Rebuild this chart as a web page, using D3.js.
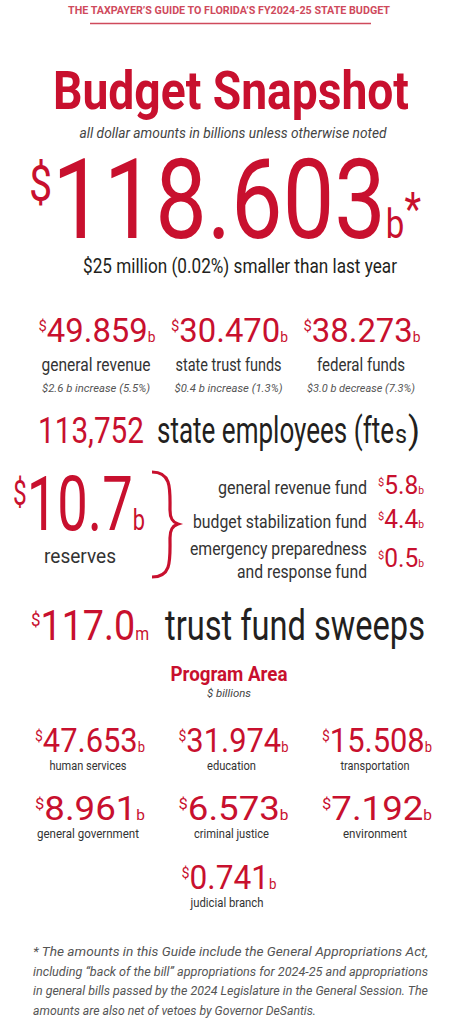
<!DOCTYPE html>
<html><head><meta charset="utf-8">
<script src="https://cdn.jsdelivr.net/npm/d3@7"></script>
<style>body{margin:0;background:#fff}svg{display:block}</style>
</head><body>
<script>
const fundNames = ["general revenue","state trust funds","federal funds"];
const fundValues = ["49.859","30.470","38.273"];
const fundChanges = ["$2.6 b increase (5.5%)","$0.4 b increase (1.3%)","$3.0 b decrease (7.3%)"];
const reserveNames = [["general revenue fund"],["budget stabilization fund"],["emergency preparedness","and response fund"]];
const reserveValues = ["5.8","4.4","0.5"];
const programNames = ["human services","education","transportation","general government","criminal justice","environment","judicial branch"];
const programValues = ["47.653","31.974","15.508","8.961","6.573","7.192","0.741"];
const footnote = ["* The amounts in this Guide include the General Appropriations Act,",
 "including \u201cback of the bill\u201d appropriations for 2024-25 and appropriations",
 "in general bills passed by the 2024 Legislature in the General Session. The",
 "amounts are also net of vetoes by Governor DeSantis."];

const RED="#c8102e", DARK="#231f20";
const F="'Liberation Sans Narrow','Arial Narrow','Roboto','Liberation Sans',sans-serif";
const W=457,H=1024;
const svg=d3.select("body").append("svg").attr("width",W).attr("height",H).style("font-family",F);

function txt(x,y,s,size,o={}){
  const t=svg.append("text").attr("x",x).attr("y",y).text(s).attr("font-size",size)
   .attr("fill",o.fill||DARK).attr("text-anchor",o.anchor||"middle");
  if(o.bold)t.attr("font-weight","bold");
  if(o.italic)t.attr("font-style","italic");
  if(o.len)t.attr("textLength",o.len).attr("lengthAdjust","spacingAndGlyphs");
  return t;
}
function money(x,y,num,size,suf,o={}){
  const t=svg.append("text").attr("x",x).attr("y",y).attr("fill",RED).attr("text-anchor",o.anchor||"middle").attr("font-size",size);
  t.append("tspan").text("$").attr("font-size",size*0.45).attr("dy",-size*0.33);
  t.append("tspan").text(num).attr("dy",size*0.33);
  if(suf) t.append("tspan").text(suf).attr("font-size",size*(o.sufScale||0.42));
  if(o.extra) t.append("tspan").text(o.extra).attr("font-size",size*0.42).attr("dy",-size*0.12);
  if(o.len) t.attr("textLength",o.len).attr("lengthAdjust","spacingAndGlyphs");
  return t;
}

txt(229,14,"THE TAXPAYER\u2019S GUIDE TO FLORIDA\u2019S FY2024-25 STATE BUDGET",11.5,{fill:"#cf4a5c",bold:true,len:322});
svg.append("line").attr("x1",90).attr("x2",371).attr("y1",23.5).attr("y2",23.5).attr("stroke","#cf4a5c").attr("stroke-width",1.5);
txt(231,109,"Budget Snapshot",54,{fill:RED,bold:true,len:356});
txt(233,138,"all dollar amounts in billions unless otherwise noted",14,{fill:"#444",italic:true,len:307});
money(225,238,"118.603",112,"b",{extra:"*",sufScale:0.36,len:392});
txt(240,273,"$25 million (0.02%) smaller than last year",19.5,{fill:DARK,len:314});

const fx=d3.scalePoint().domain(d3.range(3)).range([97,362]);
const fundLen=[109,106,88];
fundValues.forEach((v,i)=>{
  money(fx(i),342,v,34,"b",{len:117});
  txt(fx(i)-1,371,fundNames[i],17.5,{fill:"#333",len:fundLen[i]});
  txt(fx(i)-1,392,fundChanges[i],11,{fill:"#555",italic:true,len:108});
});

txt(38,443,"113,752",37,{fill:RED,anchor:"start",len:106});
txt(157,443,"state employees (fte",37,{anchor:"start",len:237});
txt(395,443,"s",26,{anchor:"start",len:12});
txt(408,443,")",37,{anchor:"start",len:12});

money(79,530,"10.7",76,"b",{len:132,sufScale:0.4});
txt(80,563,"reserves",20,{fill:"#333",len:72});
svg.append("path").attr("d","M152,472 C172,472 170,490 170,510 C170,518 172,522 178,524 C172,526 170,530 170,538 C170,560 172,577 152,577")
  .attr("fill","none").attr("stroke",RED).attr("stroke-width",3.2);
const ry=[494,528,563];
const rLen=[[149],[174],[177,130]];
reserveNames.forEach((n,i)=>{
  n.forEach((s,j)=>txt(367,ry[i]+(n.length>1?-8:0)+j*23,s,19,{anchor:"end",fill:"#333",len:rLen[i][j]}));
  money(401,ry[i]+(n.length>1?4:0),reserveValues[i],25,"b",{len:46});
});

money(90,640,"117.0",42,"m",{len:118});
txt(165,640,"trust fund sweeps",42,{anchor:"start",len:260});

txt(229,681,"Program Area",20,{fill:RED,bold:true,len:117});
txt(229,697,"$ billions",11,{fill:"#444",italic:true,len:44});
const px=d3.scalePoint().domain(d3.range(3)).range([90,377]);
const rows=[[0,1,2],[3,4,5],[6]];
const rowY=[752,820,889];
const pLen=[77,49,69,102,75,64,73];
rows.forEach((r,ri)=>r.forEach((k,ci)=>{
  const x=r.length===1?229:px(ci);
  money(x,rowY[ri],programValues[k],34,"b",{len:r.length===1?95:110});
  txt(x-2,rowY[ri]+18,programNames[k],13,{fill:"#333",len:pLen[k]});
}));

footnote.forEach((s,i)=>{
  txt(33,956+i*19.5,s,13.5,{anchor:"start",fill:"#555",italic:true,len:i<3?395:283});
});
</script>
</body></html>
